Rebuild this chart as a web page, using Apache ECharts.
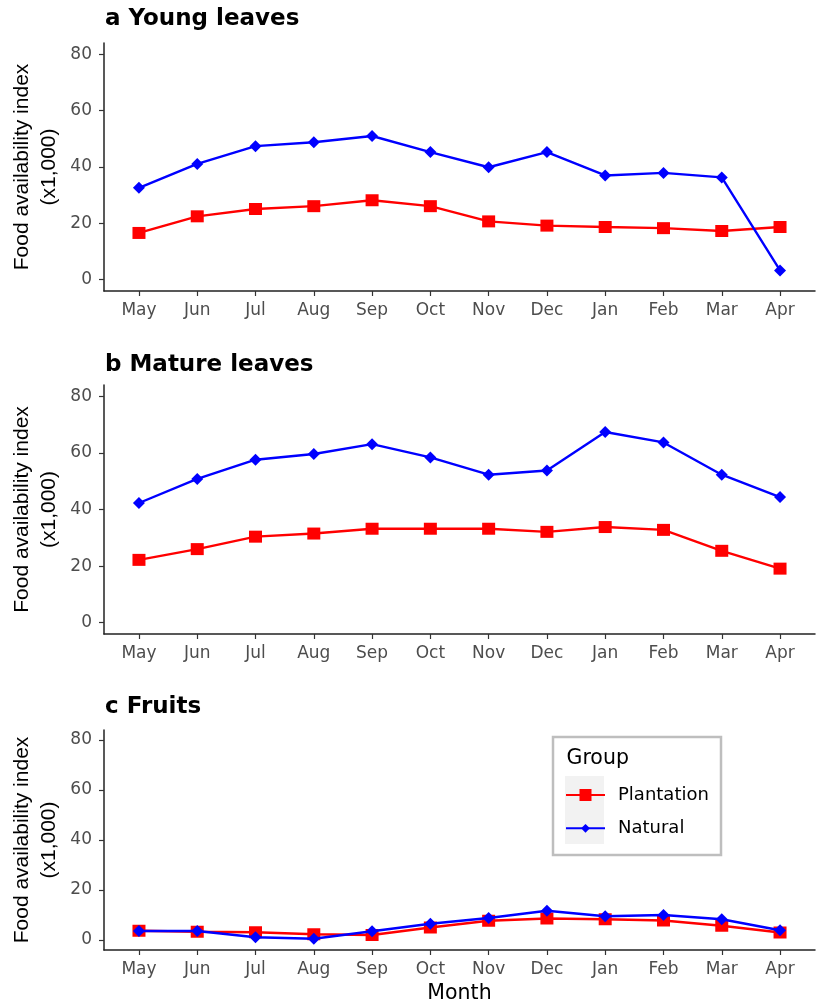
<!DOCTYPE html>
<html><head><meta charset="utf-8">
<script src="https://cdn.jsdelivr.net/npm/echarts@6/dist/echarts.min.js"></script>
<style>html,body{margin:0;padding:0;background:#fff}#c{width:817px;height:1003px}</style>
</head><body><div id="c"></div>
<script>
const months = ['May','Jun','Jul','Aug','Sep','Oct','Nov','Dec','Jan','Feb','Mar','Apr'];
const panelTitles = ['a Young leaves','b Mature leaves','c Fruits'];
const yTicks = [0,20,40,60,80];
const groupNames = ['Plantation','Natural'];
const youngPlantation = [16.6,22.5,25.1,26.1,28.2,26.1,20.7,19.2,18.7,18.3,17.3,18.7];
const youngNatural = [32.6,41.1,47.4,48.8,51.0,45.3,39.9,45.3,37.0,37.9,36.3,3.3];
const maturePlantation = [22.2,26.0,30.4,31.5,33.2,33.2,33.2,32.1,33.8,32.8,25.4,19.1];
const matureNatural = [42.3,50.8,57.6,59.6,63.1,58.4,52.3,53.8,67.4,63.7,52.3,44.4];
const fruitPlantation = [3.7,3.3,3.1,2.3,2.0,5.0,7.7,8.6,8.3,7.8,5.7,3.0];
const fruitNatural = [3.6,3.6,1.1,0.5,3.5,6.5,8.8,11.7,9.5,10.0,8.3,3.9];

const panels = [
  {plant: youngPlantation, nat: youngNatural},
  {plant: maturePlantation, nat: matureNatural},
  {plant: fruitPlantation, nat: fruitNatural}
];
const gridDefs = [{top:43,height:248},{top:385,height:249},{top:730,height:220}];
const GL = 104, GW = 711;
const tickFont = '"DejaVu Sans", sans-serif';
const monthPos = months.map((m,i)=>i+1);

const chart = echarts.init(document.getElementById('c'), null, {renderer:'canvas'});

const grid = gridDefs.map(g => ({left:GL, width:GW, top:g.top, height:g.height, containLabel:false}));
const xAxis = gridDefs.map((g,i) => ({
  type:'value', gridIndex:i, min:0.4, max:12.6,
  splitLine:{show:false},
  axisLine:{show:true, onZero:false, lineStyle:{color:'#222', width:1.5}},
  axisTick:{show:true, length:5, customValues:monthPos, lineStyle:{color:'#333', width:1.2}},
  axisLabel:{customValues:monthPos, formatter:v=>months[Math.round(v)-1], color:'#4d4d4d',
    fontSize:17, fontFamily:tickFont, margin:11}
}));
const yAxis = gridDefs.map((g,i) => ({
  type:'value', gridIndex:i, min:-4, max:84,
  splitLine:{show:false},
  axisLine:{show:true, onZero:false, lineStyle:{color:'#222', width:1.5}},
  axisTick:{show:true, length:5, customValues:yTicks, lineStyle:{color:'#333', width:1.2}},
  axisLabel:{customValues:yTicks, color:'#4d4d4d', fontSize:17, fontFamily:tickFont, margin:12}
}));

const series = [];
panels.forEach((p,i) => {
  series.push({type:'line', name:groupNames[0], xAxisIndex:i, yAxisIndex:i,
    data:p.plant.map((v,k)=>[k+1,v]), symbol:'rect', symbolSize:[13,12],
    lineStyle:{color:'#ff0000', width:2.4}, itemStyle:{color:'#ff0000'}, z:2});
  series.push({type:'line', name:groupNames[1], xAxisIndex:i, yAxisIndex:i,
    data:p.nat.map((v,k)=>[k+1,v]), symbol:'diamond', symbolSize:[12,12],
    lineStyle:{color:'#0000ff', width:2.4}, itemStyle:{color:'#0000ff'}, z:3});
});

const graphic = [];
const titleY = [19, 365, 707];
panelTitles.forEach((t,i) => {
  graphic.push({type:'text', x:105, y:titleY[i], style:{text:t, font:'bold 23px "DejaVu Sans", sans-serif',
    fill:'#000', textVerticalAlign:'middle'}});
  const g = gridDefs[i];
  graphic.push({type:'text', x:36, y:g.top + g.height/2, rotation:Math.PI/2,
    style:{text:'Food availability index\n(x1,000)', font:'21px "Liberation Sans", Arial, sans-serif',
      fill:'#000', textAlign:'center', textVerticalAlign:'middle', lineHeight:27}});
});
graphic.push({type:'text', x:GL + GW/2, y:994, style:{text:'Month', font:'20.5px "DejaVu Sans", sans-serif',
  fill:'#000', textAlign:'center', textVerticalAlign:'middle'}});
graphic.push({type:'rect', shape:{x:553, y:737, width:168, height:118},
  style:{fill:'#fff', stroke:'#bebebe', lineWidth:2.5}, z:1});
graphic.push({type:'rect', shape:{x:565, y:776, width:39, height:68},
  style:{fill:'#f2f2f2'}, z:2});
graphic.push({type:'text', x:566.5, y:759, style:{text:'Group', font:'20.5px "DejaVu Sans", sans-serif',
  fill:'#000', textVerticalAlign:'middle'}, z:3});

const legendBase = {orient:'vertical', left:565, itemWidth:39, padding:0, selectedMode:false,
  textStyle:{fontSize:18, fontFamily:tickFont, color:'#000', padding:[0,0,0,8]}};
const legend = [
  Object.assign({}, legendBase, {data:[groupNames[0]], top:786, itemHeight:15}),
  Object.assign({}, legendBase, {data:[groupNames[1]], top:819.3, itemHeight:11})
];

chart.setOption({animation:false, backgroundColor:'#fff', grid, xAxis, yAxis, series, graphic, legend});
</script></body></html>
